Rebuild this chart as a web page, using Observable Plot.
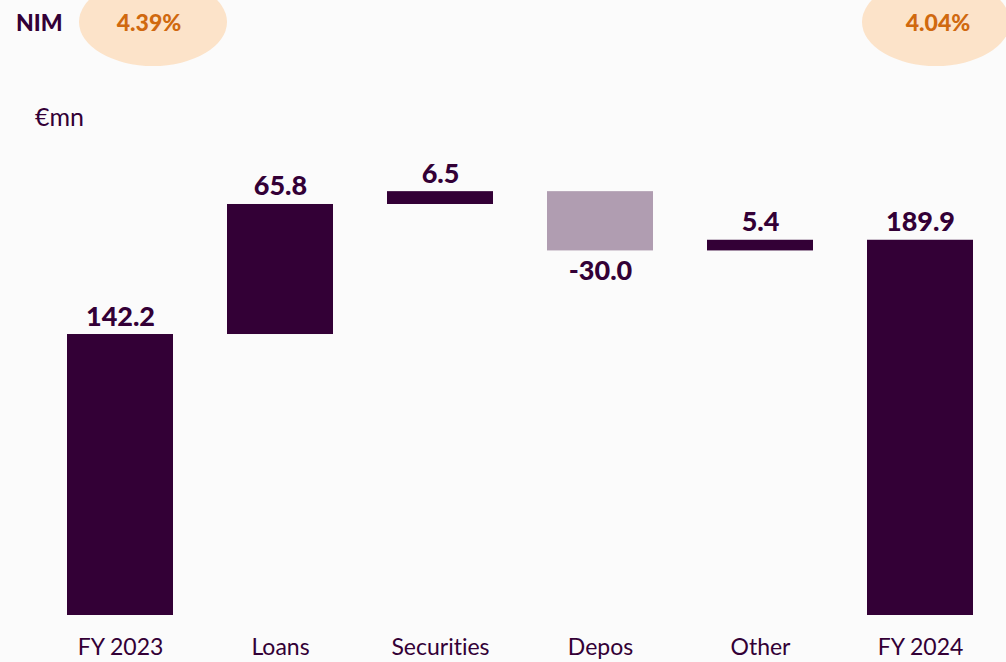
<!DOCTYPE html>
<html>
<head>
<meta charset="utf-8">
<script src="https://cdn.jsdelivr.net/npm/d3@7"></script>
<script src="https://cdn.jsdelivr.net/npm/@observablehq/plot@0.6"></script>
<style>
  html, body { margin: 0; padding: 0; background: #fbfbfb; }
  #wrap { position: relative; width: 1006px; height: 662px; overflow: hidden; background: #fbfbfb; font-family: Lato, "Noto Sans", sans-serif; font-variant-ligatures: none; }
  #chart { position: absolute; left: 0; top: 0; }
  #chart svg { font-variant-ligatures: none; }
  .ell { position: absolute; background: #fce3c9; border-radius: 50%; }
  .ell span { position: absolute; left: 0; right: 0; text-align: center; color: #d0690f; font-weight: 900; font-size: 23px; }
  .nim { position: absolute; left: 16px; top: 8px; color: #330036; font-weight: 900; font-size: 23px; }
  .unit { position: absolute; left: 35px; top: 101px; color: #330036; font-size: 25px; }
</style>
</head>
<body>
<div id="wrap">
  <div id="chart"></div>
</div>
<script>
const categories = ["FY 2023", "Loans", "Securities", "Depos", "Other", "FY 2024"];
const values = [142.2, 65.8, 6.5, -30.0, 5.4, 189.9];
const kinds = ["total", "delta", "delta", "delta", "delta", "total"];
const valueLabels = ["142.2", "65.8", "6.5", "-30.0", "5.4", "189.9"];
const nimLabels = ["4.39%", "4.04%"];
const nimTitle = "NIM";
const unitLabel = "€mn";

// build waterfall table
let running = 0;
const rows = categories.map((c, i) => {
  let y1, y2;
  if (kinds[i] === "total") { y1 = 0; y2 = values[i]; running = values[i]; }
  else { y1 = running; y2 = running + values[i]; running = y2; }
  return {cat: c, y1, y2, lo: Math.min(y1, y2), hi: Math.max(y1, y2), neg: values[i] < 0, label: valueLabels[i]};
});

const DARK = "#330036";
const LIGHT = "#b09db1";

const chart = Plot.plot({
  width: 1006,
  height: 662,
  marginLeft: 38,
  marginRight: 4,
  marginTop: 121,
  marginBottom: 47,
  style: {background: "#fbfbfb", fontFamily: "Lato, 'Noto Sans', sans-serif", color: DARK},
  x: {domain: categories, paddingInner: 0.335, paddingOuter: 0.1675, label: null},
  y: {domain: [0, 250], axis: null},
  marks: [
    Plot.barY(rows, {x: "cat", y1: "y1", y2: "y2", fill: d => d.neg ? LIGHT : DARK}),
    Plot.text(rows.filter(d => !d.neg), {x: "cat", y: "hi", text: "label", dy: -9, lineAnchor: "bottom", fontSize: 27, fontWeight: 900, fill: DARK}),
    Plot.text(rows.filter(d => d.neg), {x: "cat", y: "lo", text: "label", dy: 10, lineAnchor: "top", fontSize: 27, fontWeight: 900, fill: DARK}),
    Plot.axisX({tickSize: 0, tickPadding: 23, fontSize: 23, fill: DARK, label: null})
  ]
});
document.getElementById("chart").appendChild(chart);

const wrap = document.getElementById("wrap");
const nim = document.createElement("div");
nim.className = "nim"; nim.textContent = nimTitle; wrap.appendChild(nim);
const unit = document.createElement("div");
unit.className = "unit"; unit.textContent = unitLabel; wrap.appendChild(unit);
const ellPos = [79, 862];
nimLabels.forEach((t, i) => {
  const e = document.createElement("div");
  e.className = "ell";
  e.style.left = ellPos[i] + "px";
  e.style.top = "-22px";
  e.style.width = "148px";
  e.style.height = "88px";
  const s = document.createElement("span");
  s.textContent = t;
  s.style.top = "30px";
  s.style.marginLeft = (i === 0 ? -8 : 4) + "px";
  e.appendChild(s);
  wrap.appendChild(e);
});
</script>
</body>
</html>
